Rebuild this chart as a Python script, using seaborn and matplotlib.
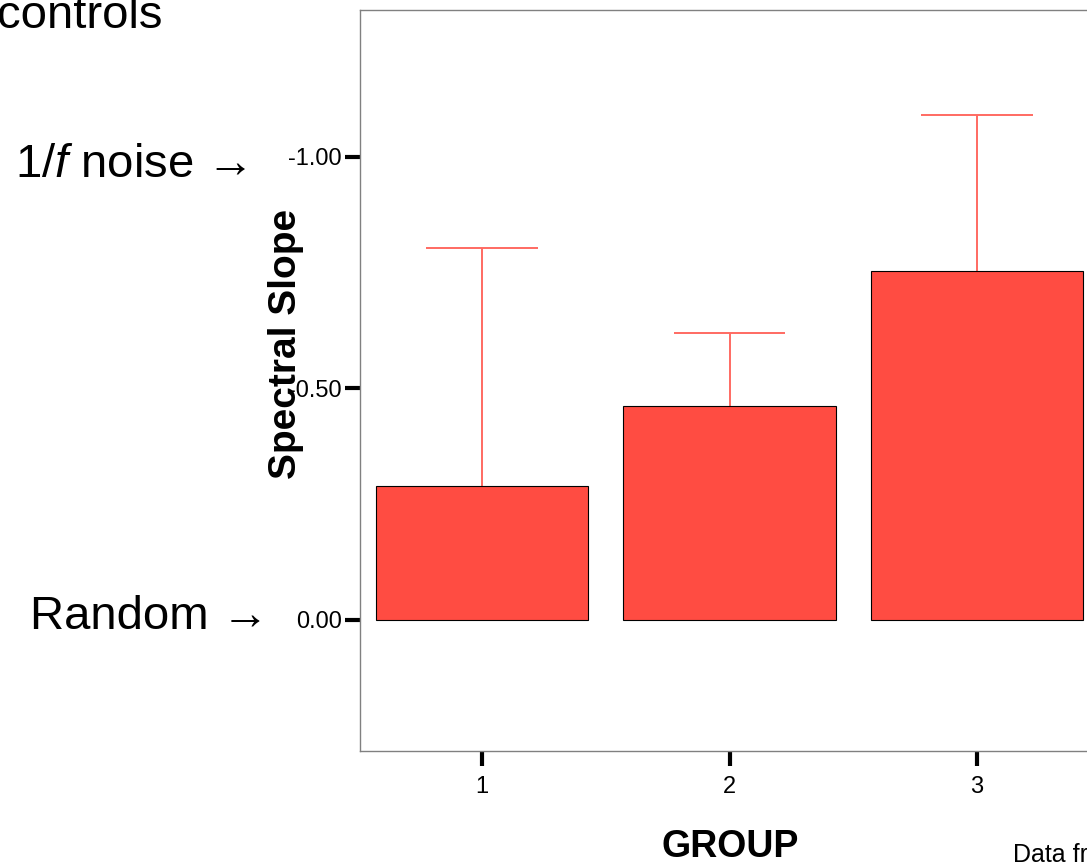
import matplotlib
matplotlib.use("Agg")
import matplotlib.pyplot as plt
import seaborn as sns
import pandas as pd

groups = ["1", "2", "3"]
slope_means = [-0.289, -0.462, -0.754]
slope_upper = [-0.803, -0.620, -1.091]
ytick_values = [0.0, -0.5, -1.0]
ytick_labels = ["0.00", "-0.50", "-1.00"]

sns.set_theme(style="white")
plt.rcParams["font.family"] = ["Liberation Sans", "DejaVu Sans"]
plt.rcParams["mathtext.fontset"] = "custom"
plt.rcParams["mathtext.rm"] = "Liberation Sans"
plt.rcParams["mathtext.it"] = "Liberation Sans:italic"
plt.rcParams["text.color"] = "black"

df = pd.DataFrame({"GROUP": groups, "slope": slope_means})

fig = plt.figure(figsize=(10.87, 8.64), dpi=100)
ax = fig.add_axes([360 / 1087, 113 / 864, 739 / 1087, 741 / 864])

sns.barplot(data=df, x="GROUP", y="slope", order=groups, color="#FF4C42",
            saturation=1, width=0.857, edgecolor="black", linewidth=0.8,
            errorbar=None, ax=ax, zorder=2)

xs = range(len(groups))
ax.vlines(list(xs), slope_means, slope_upper, color="#FF6A62", linewidth=1.4, zorder=1)
ax.hlines(slope_upper, [x - 0.226 for x in xs], [x + 0.226 for x in xs],
          color="#FF6A62", linewidth=1.4, zorder=1)

ax.set_xlim(-0.493, 2.493)
ax.set_ylim(0.283, -1.317)
ax.set_yticks(ytick_values)
ax.set_yticklabels(ytick_labels)
ax.set_xlabel("")
ax.set_ylabel("")

for s in ax.spines.values():
    s.set_color("#808080")
    s.set_linewidth(1.0)

ax.tick_params(axis="both", which="major", direction="out", length=11, width=3,
               color="black", labelsize=17, labelcolor="black",
               bottom=True, left=True)
ax.tick_params(axis="y", pad=2)
ax.tick_params(axis="x", pad=7)
ax.grid(False)

fig.text(286 / 1087, 1 - 344 / 864, "Spectral Slope", rotation=90, fontsize=28,
         fontweight="bold", ha="center", va="center")
fig.text(730 / 1087, 1 - 847 / 864, "GROUP", fontsize=27, fontweight="bold",
         ha="center", va="center")
fig.text(15 / 1087, 1 - 165 / 864, r"1/$f$ noise →", fontsize=34, ha="left", va="center")
fig.text(30 / 1087, 1 - 617 / 864, "Random →", fontsize=34, ha="left", va="center")
fig.text(-3 / 1087, 1 - 28 / 864, "controls", fontsize=34, ha="left", va="baseline")
fig.text(1013 / 1087, 1 - 862 / 864, "Data from", fontsize=18, ha="left", va="baseline")

fig.savefig("out.png", dpi=100)
